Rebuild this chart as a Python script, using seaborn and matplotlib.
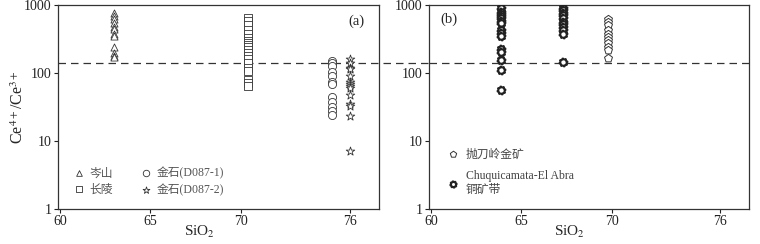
import numpy as np
import pandas as pd
import matplotlib
matplotlib.use("Agg")
import matplotlib.pyplot as plt
from matplotlib.path import Path
import seaborn as sns

# (a) 各岩体锆石 Ce4+/Ce3+
censhan_sio2 = 63.0
censhan_ratio = [770, 690, 615, 550, 480, 440, 380, 350, 245, 195, 178, 174]
changling_sio2 = 70.35
changling_ratio = [650, 580, 500, 430, 380, 330, 300, 280, 260, 240, 220, 200,
                   180, 160, 140, 120, 108, 80, 72, 65]
jinshi1_sio2 = 75.0
jinshi1_ratio = [150, 140, 125, 105, 90, 75, 70, 45, 38, 32, 28, 24]
jinshi2_sio2 = 76.0
jinshi2_ratio = [160, 140, 120, 115, 90, 75, 70, 65, 60, 47, 35, 33, 23, 7.2]

# (b) 对比矿床
paodaoling_sio2 = 69.8
paodaoling_ratio = [615, 570, 510, 430, 380, 340, 305, 275, 245, 220, 165]
chuqui_sio2 = [63.9, 67.3]
chuqui_ratio = [[895, 800, 735, 690, 635, 585, 540, 425, 390, 350, 225, 205, 158, 110, 56],
                [890, 845, 770, 710, 640, 570, 525, 480, 425, 380, 146]]

threshold = 140
x_ticks = [60, 65, 70, 76]


def gear_marker(teeth=8, inner=0.72):
    ang = np.linspace(0, 2 * np.pi, teeth * 4, endpoint=False)
    r = np.tile([1, 1, inner, inner], teeth)
    verts = np.column_stack([r * np.cos(ang + np.pi / (teeth * 4)), r * np.sin(ang + np.pi / (teeth * 4))])
    verts = np.vstack([verts, verts[:1]])
    codes = [Path.MOVETO] + [Path.LINETO] * (len(verts) - 2) + [Path.CLOSEPOLY]
    return Path(verts, codes)


def make_df(sio2, ratio, name):
    return pd.DataFrame({"SiO2": [sio2] * len(ratio), "ratio": ratio, "group": name})


sns.set_style("ticks")
plt.rcParams["font.family"] = ["Liberation Serif", "Noto Sans CJK SC"]
plt.rcParams["mathtext.fontset"] = "stix"

fig = plt.figure(figsize=(7.6, 2.44), dpi=100)
ax1 = fig.add_axes([0.0763, 0.1434, 0.4224, 0.836])
ax2 = fig.add_axes([0.5645, 0.1434, 0.421, 0.836])

df_a = pd.concat([
    make_df(censhan_sio2, censhan_ratio, "岑山"),
    make_df(changling_sio2, changling_ratio, "长陵"),
    make_df(jinshi1_sio2, jinshi1_ratio, "金石(D087-1)"),
    make_df(jinshi2_sio2, jinshi2_ratio, "金石(D087-2)"),
])
markers_a = {"岑山": "^", "长陵": "s", "金石(D087-1)": "o", "金石(D087-2)": "*"}
sizes_a = {"岑山": 26, "长陵": 32, "金石(D087-1)": 34, "金石(D087-2)": 42}
for name, sub in df_a.groupby("group", sort=False):
    sns.scatterplot(data=sub, x="SiO2", y="ratio", ax=ax1, marker=markers_a[name],
                    s=sizes_a[name], facecolor="white", edgecolor="#333333",
                    linewidth=0.6, label=name, zorder=3)

df_b = pd.concat([make_df(paodaoling_sio2, paodaoling_ratio, "抛刀岭金矿")] +
                 [make_df(x, r, "Chuquicamata-El Abra\n铜矿带") for x, r in zip(chuqui_sio2, chuqui_ratio)])
gear = gear_marker()
sns.scatterplot(data=df_b[df_b.group == "抛刀岭金矿"], x="SiO2", y="ratio", ax=ax2, marker="p",
                s=36, facecolor="white", edgecolor="#333333", linewidth=0.7,
                label="抛刀岭金矿", zorder=3)
sns.scatterplot(data=df_b[df_b.group != "抛刀岭金矿"], x="SiO2", y="ratio", ax=ax2, marker=gear,
                s=34, facecolor="white", edgecolor="#222222", linewidth=1.3,
                label="Chuquicamata-El Abra\n铜矿带", zorder=3)

for ax in (ax1, ax2):
    ax.set_yscale("log")
    ax.set_ylim(1, 1000)
    ax.set_xlim(59.9, 77.6)
    ax.set_xticks(x_ticks)
    ax.set_xticklabels([str(t) for t in x_ticks])
    ax.set_yticks([1, 10, 100, 1000])
    ax.set_yticklabels(["1", "10", "100", "1000"])
    ax.minorticks_off()
    ax.tick_params(direction="out", length=3, width=0.8, labelsize=10, pad=1.5, colors="#222222")
    for sp in ax.spines.values():
        sp.set_linewidth(0.9)
        sp.set_color("#333333")
    ax.set_xlabel("SiO$_2$", fontsize=11, labelpad=0)
    ax.xaxis.set_label_coords(0.44, -0.075)
    ax.set_ylabel("")

ax1.axhline(threshold, xmin=0, xmax=1.16, color="#333333", lw=0.9,
            ls=(0, (6, 4)), clip_on=False, zorder=2)
ax2.axhline(threshold, color="#333333", lw=0.9, ls=(0, (6, 4)), zorder=2)

ax1.set_ylabel("Ce$^{4+}$/Ce$^{3+}$", fontsize=11.5)
ax1.yaxis.set_label_coords(-0.095, 0.5)
ax1.text(0.955, 0.92, "(a)", transform=ax1.transAxes, ha="right", va="center", fontsize=10.5)
ax2.text(0.035, 0.93, "(b)", transform=ax2.transAxes, ha="left", va="center", fontsize=10.5)

ax1.legend(loc="lower left", bbox_to_anchor=(0.02, 0.03), ncol=2, frameon=False,
           fontsize=8.5, handletextpad=0.3, columnspacing=2.2, labelspacing=0.35,
           handlelength=1.2, borderaxespad=0.2, labelcolor="#555555", markerscale=0.8)
ax2.legend(loc="lower left", bbox_to_anchor=(0.03, 0.03), frameon=False,
           fontsize=8.5, handletextpad=0.5, labelspacing=0.8,
           handlelength=1.2, borderaxespad=0.2, labelcolor="#444444", markerscale=0.8)

fig.savefig("out.png", dpi=100)
